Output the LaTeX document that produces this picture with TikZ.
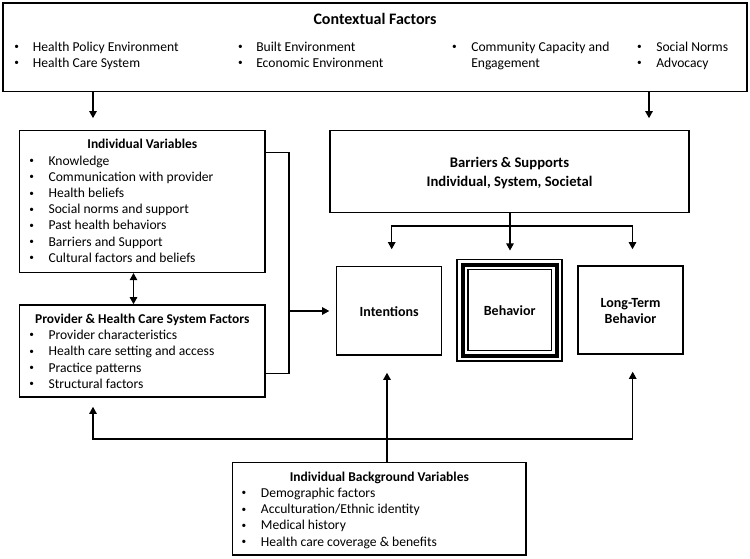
\documentclass[tikz,border=0pt]{standalone}
\usepackage{fontspec}
\setmainfont{Carlito}
\usetikzlibrary{arrows.meta,fit}
\begin{document}
\begin{tikzpicture}[x=0.75pt,y=-0.75pt,
  box/.style={draw, line width=1.1pt, inner sep=0pt, fit={#1}},
  arr/.style={line width=1.1pt, -{Triangle[length=5.4pt,width=5.6pt]}},
  darr/.style={line width=1.1pt, {Triangle[length=5.4pt,width=5.6pt]}-{Triangle[length=5.4pt,width=5.6pt]}},
  ln/.style={line width=1.1pt},
  itm/.style={anchor=base west, inner sep=0pt, yshift=-3.3pt, font=\fontsize{10.2}{12}\selectfont},
  bul/.style={anchor=base, inner sep=0pt, yshift=-2.2pt, font=\fontsize{7}{8}\selectfont},
  ttl/.style={anchor=base, inner sep=0pt, yshift=-3.3pt, font=\fontsize{10.1}{12}\selectfont\bfseries},
  bigttl/.style={anchor=base, inner sep=0pt, yshift=-4.1pt, font=\fontsize{12}{14}\selectfont\bfseries},
  midttl/.style={anchor=base, inner sep=0pt, yshift=-3.6pt, font=\fontsize{11}{13}\selectfont\bfseries},
  outttl/.style={anchor=base, inner sep=0pt, yshift=-3.4pt, font=\fontsize{10.5}{12.5}\selectfont\bfseries}
]
\useasboundingbox (0,0) rectangle (750,559);
\fill[white] (0,0) rectangle (750,559);

% ---------- boxes ----------
\node[box={(3,3) (747,91.5)}] (ctx) {};
\node[box={(19.5,130.7) (265,272.3)}] (ind) {};
\node[box={(19.5,305) (265,397)}] (prov) {};
\node[box={(330,130.7) (689,212.7)}] (bar) {};
\node[box={(336.7,266.7) (441.7,355)}] (int) {};
\node[box={(457.2,259.3) (562.2,361)}] (beh) {};
\node[draw, line width=3pt, inner sep=0pt, fit={(463,264.7) (556.5,355.7)}] (behmid) {};
\node[box={(467.8,269.3) (551.5,350.3)}] (behin) {};
\node[box={(578,266) (683,354)}] (lt) {};
\node[box={(232.7,462.7) (526,555)}] (bg) {};

% ---------- contextual factors ----------
\node[bigttl] (ctxt) at (375,19) {Contextual Factors};
\node[bul] (cb1) at (16.8,46.7) {•};
\node[itm] (ct1) at (32.7,46.7) {Health Policy Environment};
\node[bul] (cb2) at (16.8,63) {•};
\node[itm] (ct2) at (32.7,63) {Health Care System};
\node[bul] (cb3) at (240.5,46.7) {•};
\node[itm] (ct3) at (256,46.7) {Built Environment};
\node[bul] (cb4) at (240.5,63) {•};
\node[itm] (ct4) at (256,63) {Economic Environment};
\node[bul] (cb5) at (454.5,46.7) {•};
\node[itm] (ct5) at (471,46.7) {Community Capacity and};
\node[itm] (ct6) at (471,63) {Engagement};
\node[bul] (cb7) at (639.5,46.7) {•};
\node[itm] (ct7) at (656,46.7) {Social Norms};
\node[bul] (cb8) at (639.5,63) {•};
\node[itm] (ct8) at (656,63) {Advocacy};

% ---------- individual variables ----------
\node[ttl] (indt) at (142.3,144.3) {Individual Variables};
\foreach \t [count=\i] in {Knowledge, Communication with provider, Health beliefs, Social norms and support, Past health behaviors, Barriers and Support, Cultural factors and beliefs}{
  \node[bul] (indb\i) at (31.7,160.7+16.2*\i-16.2) {•};
  \node[itm] (indi\i) at (48.3,160.7+16.2*\i-16.2) {\t};
}

% ---------- provider ----------
\node[ttl] (provt) at (142.3,319) {Provider \& Health Care System Factors};
\foreach \t [count=\i] in {Provider characteristics, Health care setting and access, Practice patterns, Structural factors}{
  \node[bul] (provb\i) at (31.7,335+16.35*\i-16.35) {•};
  \node[itm] (provi\i) at (48.3,335+16.35*\i-16.35) {\t};
}

% ---------- barriers ----------
\node[midttl] (bar1) at (509.5,163) {Barriers \& Supports};
\node[midttl] (bar2) at (509.5,181.7) {Individual, System, Societal};

% ---------- outcome boxes ----------
\node[outttl] (intt) at (389.2,311.7) {Intentions};
\node[outttl] (beht) at (509.7,310.7) {Behavior};
\node[outttl] (lt1) at (630.5,302.7) {Long-Term};
\node[outttl] (lt2) at (630.5,319) {Behavior};

% ---------- background ----------
\node[ttl] (bgt) at (379.3,476.7) {Individual Background Variables};
\foreach \t [count=\i] in {Demographic factors, Acculturation/Ethnic identity, Medical history, Health care coverage \& benefits}{
  \node[bul] (bgb\i) at (244,492.7+16.45*\i-16.45) {•};
  \node[itm] (bgi\i) at (260.7,492.7+16.45*\i-16.45) {\t};
}

% ---------- connectors ----------
\draw[arr, shorten >=8.8pt] (93,0 |- ctx.south) -- (93,0 |- ind.north);
\draw[arr, shorten >=8.8pt] (649,0 |- ctx.south) -- (649,0 |- bar.north);
\draw[darr] (133.5,0 |- ind.south) -- (133.5,0 |- prov.north);

\coordinate (bk) at (289,311);
\draw[ln] (ind.east |- 0,152.7) -| (bk) |- (prov.east |- 0,373.3);
\draw[arr, shorten >=5pt] (bk) -- (int.west |- bk);

\coordinate (sp) at (510,226);
\draw[ln] (bar.south -| sp) -- (sp);
\draw[arr, shorten >=12.5pt] (sp) -| (391.7,0 |- int.north);
\draw[arr, shorten >=6pt] (sp) -- (sp |- beh.north);
\draw[arr, shorten >=12pt] (sp) -| (632.5,0 |- lt.north);

\coordinate (hub) at (387,439);
\draw[arr, shorten >=12.75pt] (hub |- bg.north) -- (hub |- int.south);
\draw[arr, shorten >=6.75pt] (hub) -| (93,0 |- prov.south);
\draw[arr, shorten >=12.75pt] (hub) -| (632.7,0 |- lt.south);
\end{tikzpicture}
\end{document}
